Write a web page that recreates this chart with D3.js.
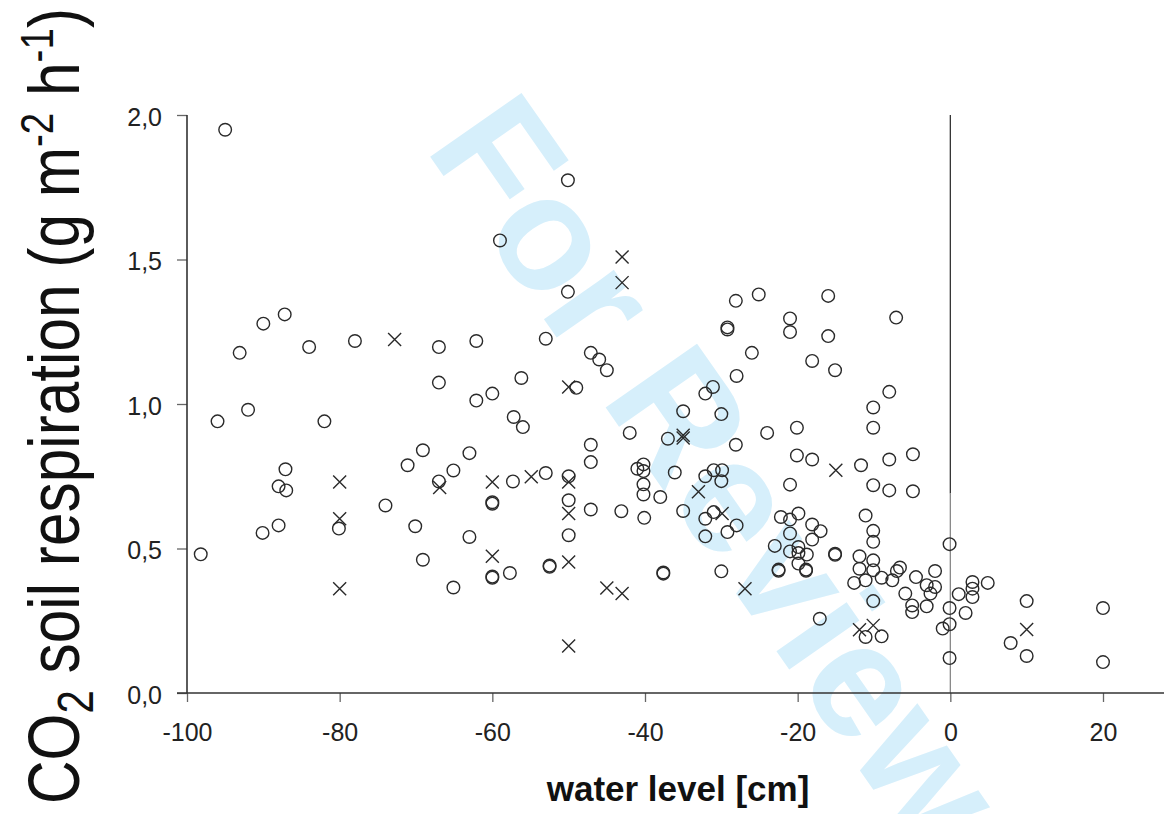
<!DOCTYPE html>
<html>
<head>
<meta charset="utf-8">
<script src="https://cdn.jsdelivr.net/npm/d3@7"></script>
<style>
  body { margin: 0; background: #fff; }
  text { font-family: "Liberation Sans", Arial, sans-serif; }
</style>
</head>
<body>
<div id="wrapper"></div>
<script>
// water level [cm], CO2 soil respiration [g m-2 h-1]
const circlePoints = [
  [-95.0, 1.949], [-59.0, 1.566], [-87.2, 1.310], [-90.0, 1.278], [-93.1, 1.177],
  [-84.0, 1.197], [-78.0, 1.218], [-67.0, 1.197], [-62.1, 1.218], [-67.0, 1.074],
  [-62.1, 1.012], [-60.0, 1.036], [-56.2, 1.090], [-92.0, 0.980], [-96.0, 0.940],
  [-82.0, 0.940], [-57.2, 0.955], [-56.0, 0.920], [-69.1, 0.840], [-71.1, 0.788],
  [-63.0, 0.830], [-65.1, 0.770], [-67.0, 0.732], [-87.1, 0.774], [-88.0, 0.715],
  [-87.0, 0.701], [-80.1, 0.569], [-74.0, 0.649], [-70.1, 0.577], [-69.1, 0.461],
  [-63.0, 0.540], [-65.1, 0.365], [-88.0, 0.580], [-90.1, 0.554], [-98.2, 0.480],
  [-57.3, 0.732], [-60.0, 0.660], [-60.0, 0.655], [-60.0, 0.403], [-60.0, 0.399],
  [-57.7, 0.415], [-50.1, 1.774], [-50.1, 1.388], [-53.0, 1.226], [-47.1, 1.177],
  [-46.0, 1.154], [-45.0, 1.117], [-49.0, 1.056], [-28.1, 1.357], [-25.1, 1.379],
  [-16.0, 1.374], [-29.2, 1.265], [-29.2, 1.258], [-21.0, 1.296], [-21.0, 1.249],
  [-16.0, 1.235], [-26.0, 1.177], [-18.1, 1.149], [-15.1, 1.117], [-28.0, 1.097],
  [-31.1, 1.059], [-32.1, 1.036], [-35.0, 0.975], [-30.0, 0.965], [-42.0, 0.900],
  [-37.0, 0.880], [-28.1, 0.859], [-24.0, 0.900], [-20.1, 0.918], [-20.1, 0.822],
  [-18.1, 0.808], [-47.1, 0.859], [-47.1, 0.799], [-53.0, 0.761], [-50.0, 0.750],
  [-50.0, 0.667], [-50.0, 0.546], [-52.5, 0.441], [-52.5, 0.437], [-47.1, 0.635],
  [-43.1, 0.629], [-40.1, 0.606], [-41.0, 0.776], [-40.2, 0.791], [-40.2, 0.768],
  [-40.2, 0.722], [-40.2, 0.687], [-38.0, 0.678], [-36.1, 0.763], [-35.0, 0.630],
  [-32.1, 0.750], [-31.0, 0.771], [-29.9, 0.771], [-30.0, 0.733], [-31.0, 0.626],
  [-32.1, 0.603], [-28.0, 0.580], [-29.2, 0.557], [-32.1, 0.542], [-37.6, 0.417],
  [-37.6, 0.413], [-30.0, 0.421], [-21.0, 0.721], [-22.2, 0.609], [-21.0, 0.600],
  [-19.9, 0.621], [-18.1, 0.583], [-17.0, 0.560], [-18.1, 0.531], [-21.0, 0.552],
  [-23.0, 0.509], [-21.0, 0.490], [-19.9, 0.505], [-19.9, 0.484], [-18.8, 0.479],
  [-19.9, 0.448], [-18.9, 0.427], [-18.9, 0.423], [-22.5, 0.427], [-22.5, 0.423],
  [-15.1, 0.482], [-15.1, 0.478], [-17.1, 0.257], [-7.1, 1.299], [-8.0, 1.042],
  [-10.1, 0.988], [-10.1, 0.918], [-11.7, 0.788], [-8.0, 0.808], [-4.9, 0.826],
  [-10.1, 0.719], [-8.0, 0.701], [-4.9, 0.698], [-11.1, 0.614], [-10.1, 0.561],
  [-10.1, 0.523], [-0.1, 0.515], [-11.9, 0.473], [-11.9, 0.430], [-10.1, 0.459],
  [-10.1, 0.425], [-12.6, 0.381], [-11.1, 0.390], [-9.0, 0.399], [-7.6, 0.390],
  [-7.0, 0.422], [-6.6, 0.434], [-4.5, 0.401], [-2.0, 0.422], [-5.9, 0.344],
  [-5.0, 0.303], [-5.0, 0.280], [-3.1, 0.373], [-2.0, 0.367], [-2.6, 0.344],
  [-3.1, 0.300], [-0.1, 0.294], [-0.1, 0.238], [-1.0, 0.223], [-0.1, 0.121],
  [1.1, 0.342], [2.0, 0.277], [2.9, 0.384], [2.9, 0.361], [2.9, 0.332],
  [4.9, 0.381], [10.0, 0.318], [7.9, 0.173], [10.0, 0.128], [20.0, 0.294],
  [20.0, 0.107], [-11.1, 0.194], [-9.0, 0.196], [-10.1, 0.318]
];

const crossPoints = [
  [-72.8, 1.223], [-66.9, 0.711], [-80.0, 0.730], [-80.0, 0.603], [-80.0, 0.361],
  [-60.0, 0.730], [-60.0, 0.473], [-43.0, 1.509], [-43.0, 1.420], [-50.0, 1.059],
  [-35.0, 0.892], [-35.0, 0.882], [-15.0, 0.771], [-54.9, 0.748], [-50.0, 0.730],
  [-50.0, 0.621], [-50.0, 0.453], [-33.0, 0.696], [-29.9, 0.621], [-45.0, 0.363],
  [-43.0, 0.344], [-50.0, 0.163], [-26.9, 0.361], [-11.9, 0.219], [-10.1, 0.234],
  [10.0, 0.220]
];

const xTicks = [-100, -80, -60, -40, -20, 0, 20];
const yTicks = [0, 0.5, 1.0, 1.5, 2.0];
const xDomain = [-100, 20];
const yDomain = [0, 2];
const xEdge = 28.6; // axis runs out to the right edge

const width = 1164, height = 814;
const margin = { top: 115, right: 61, bottom: 121, left: 187 };

const svg = d3.select("#wrapper")
  .append("svg")
  .attr("width", width)
  .attr("height", height);

const xScale = d3.scaleLinear()
  .domain(xDomain)
  .range([margin.left, width - margin.right]);

const yScale = d3.scaleLinear()
  .domain(yDomain)
  .range([height - margin.bottom, margin.top]);

// watermark sits behind everything
svg.append("text")
  .attr("transform", "translate(424,148) rotate(55)")
  .attr("font-size", 162)
  .attr("font-weight", "bold")
  .attr("fill", "#d6effb")
  .text("For Review");

// zero water level line
svg.append("line")
  .attr("x1", xScale(0)).attr("x2", xScale(0))
  .attr("y1", yScale(2)).attr("y2", yScale(0.69))
  .attr("stroke", "#333").attr("stroke-width", 1.3);
svg.append("line")
  .attr("x1", xScale(0)).attr("x2", xScale(0))
  .attr("y1", yScale(0.69)).attr("y2", yScale(0))
  .attr("stroke", "#888").attr("stroke-width", 1.3);

// axes
const fmtY = d => d.toFixed(1).replace(".", ",");
const yAxis = svg.append("g")
  .attr("transform", `translate(${margin.left},0)`)
  .call(d3.axisLeft(yScale).tickValues(yTicks).tickFormat(fmtY).tickSize(10).tickPadding(15));
const xAxis = svg.append("g")
  .attr("transform", `translate(0,${yScale(0)})`)
  .call(d3.axisBottom(xScale).tickValues(xTicks).tickFormat(d => String(d)).tickSize(9).tickPadding(26));

[yAxis, xAxis].forEach(ax => {
  ax.select(".domain").remove();
  ax.selectAll(".tick line").attr("stroke", "#666").attr("stroke-width", 1.3);
  ax.selectAll(".tick text")
    .attr("font-family", "'Liberation Sans', Arial, sans-serif")
    .attr("font-size", 25)
    .attr("fill", "#222");
});
yAxis.selectAll(".tick text").attr("dy", "0.4em");
xAxis.selectAll(".tick text").attr("dy", "0.5em");

svg.append("line")
  .attr("x1", xScale(-100)).attr("x2", xScale(-100))
  .attr("y1", yScale(2)).attr("y2", yScale(0))
  .attr("stroke", "#333").attr("stroke-width", 1.6);
svg.append("line")
  .attr("x1", xScale(-100) - 10).attr("x2", xScale(xEdge))
  .attr("y1", yScale(0)).attr("y2", yScale(0))
  .attr("stroke", "#333").attr("stroke-width", 1.6);

// points
svg.append("g")
  .selectAll("circle")
  .data(circlePoints)
  .join("circle")
  .attr("cx", d => xScale(d[0]))
  .attr("cy", d => yScale(d[1]))
  .attr("r", 6.3)
  .attr("fill", "none")
  .attr("stroke", "#2a2a2a")
  .attr("stroke-width", 1.4);

const cs = 6.5;
svg.append("g")
  .selectAll("path")
  .data(crossPoints)
  .join("path")
  .attr("d", d => {
    const x = xScale(d[0]), y = yScale(d[1]);
    return `M${x - cs},${y - cs}L${x + cs},${y + cs}M${x - cs},${y + cs}L${x + cs},${y - cs}`;
  })
  .attr("fill", "none")
  .attr("stroke", "#2a2a2a")
  .attr("stroke-width", 1.4);

// axis titles
svg.append("text")
  .attr("x", 678)
  .attr("y", 801)
  .attr("text-anchor", "middle")
  .attr("font-size", 35)
  .attr("font-weight", "bold")
  .attr("fill", "#111")
  .text("water level [cm]");

const yTitle = svg.append("text")
  .attr("transform", "translate(79,804) rotate(-90)")
  .attr("font-family", "'Liberation Sans Narrow', 'DejaVu Sans Condensed', sans-serif")
  .attr("font-size", 72)
  .attr("fill", "#111")
  .attr("textLength", 796)
  .attr("lengthAdjust", "spacingAndGlyphs");
yTitle.append("tspan").text("CO");
yTitle.append("tspan").attr("font-size", 50).attr("dy", 14).text("2");
yTitle.append("tspan").attr("dy", -14).text(" soil respiration (g m");
yTitle.append("tspan").attr("font-size", 46).attr("dy", -26).text("-2");
yTitle.append("tspan").attr("dy", 26).text(" h");
yTitle.append("tspan").attr("font-size", 46).attr("dy", -26).text("-1");
yTitle.append("tspan").attr("dy", 26).text(")");
</script>
</body>
</html>
